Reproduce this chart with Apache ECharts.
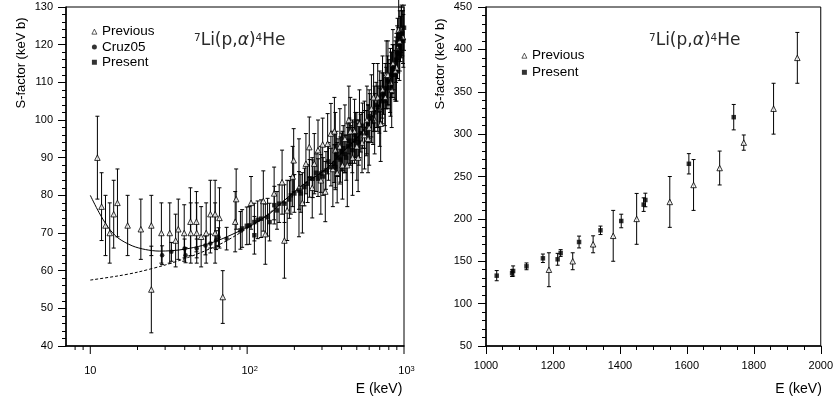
<!DOCTYPE html>
<html><head><meta charset="utf-8">
<script src="https://cdn.jsdelivr.net/npm/echarts@6/dist/echarts.min.js"></script>
<style>html,body{margin:0;padding:0;background:#fff}#c{width:836px;height:401px}</style>
</head><body><div id="c"></div>
<script>
// ---------- Left panel data: [E (keV), S (keV b), error] ----------
const leftPrevious = [
  [11.1,90,11],[11.8,77,9],[12.5,72,8],[13.3,70,8],[14.1,75,9],[14.9,78,9],[17.3,72,8],[21.0,71,8],
  [24.5,72,8],[24.5,55,11.5],[28.4,70,8],[32.1,70,8],[35.0,68,7],[36.4,71,8],[39.7,70,7.5],[43.5,73,9],
  [43.7,70,8],[47.5,73,8],[47.7,70,8],[50.9,69,8],[54.8,70,8],[58.3,75,9],[62.5,75,9],[62.5,70,8],
  [66.6,74,8],[69.9,53,7],[83.9,73,8],[85.1,79,8],[105.9,78,7],[126.8,78.5,8],[130.6,69.7,8],
  [148.6,80.5,7],[167,83.5,8.5],[172.8,68,10],[180,76,8],[195,85,8],[198,89.3,8.4],[214,82,13],
  [225,78,8],[237,88.4,8],[249,92.8,8],[260,82,8],[268,88.4,8],[283,92,8],[295,84,9],[303,93.5,7],
  [315,81,8],[326,93.7,8],[342,96.4,8],[352,87,10],[360,97,9],[365,92,10],[375,86,8],[390,93,10],
  [405,88,9],[420,95,9],[435,88,11],[445,100,9],[455,97,9],[470,90,10],[484,97,8.5],[500,93,9],
  [510,90,9],[520,99,9],[540,94,8],[560,96,9],[580,100,9],[590,95,9],[600,98,10],[620,103,9],
  [640,106,9],[650,100,9],[680,106,9],[700,103,10],[710,99,10],[730,108,9],[760,106,9],[770,112,9],
  [790,112,9],[820,110,9],[835,108,10],[850,115,9],[880,113,8],[895,114,9],[910,119,8],[925,124,8],
  [940,121,8],[960,124,6],[985,122,7]
];
const leftCruz05 = [
  [28.7,64.1,2.5],[32.9,65,2.5],[39.9,65.9,2.5],[40.5,64.1,2],[47.7,65.9,2.5],[54.2,66.7,2.5],
  [58.3,67.2,2.5],[63.4,68.1,2.5],[65.7,68.9,2.5],[74,68.5,3]
];
const leftPresent = [
  [90.6,70.7,5],[92.9,71.2,5],[99.5,71.9,5],[103.3,72,5],[111.2,72.9,5],[111.2,69.4,5],[116.7,73.5,5],
  [122.7,73.8,5],[135,74.2,5],[139,72.9,5],[149,77.4,5],[155,76,5],[160,77.8,5],[173,77.8,5],
  [186,78.9,5],[190,80,5],[200,80.5,5],[214,81.3,5],[220,80.5,5],[232,82.2,5],[243,83.1,5],
  [250,84.5,5],[262,84.4,5],[275,86,5],[283,84.7,5],[295,85.8,5],[305,85,5],[318,86.6,5],
  [330,89,5],[342,87.5,5],[359,88.4,5],[365,87.5,6],[372,91,6],[380,90,5],[393,89.5,6],[400,91.5,5],
  [410,92.5,6],[420,91,5],[428,90,6],[440,93,5],[448,94.5,6],[460,93.5,5],[468,92,6],[480,94.5,5],
  [490,96,6],[500,95,5],[515,94,6],[530,96.5,5],[545,98.5,6],[560,97.5,5],[575,96.5,6],[590,99,5],
  [605,101,6],[620,100.5,5],[635,99.5,6],[650,102,5],[665,104,6],[680,103.5,5.5],[695,102.5,6],
  [710,105,5.5],[725,106.5,6],[740,107,5.5],[755,105,6.5],[770,108.5,5.5],[785,110.5,6.5],
  [800,110,6],[815,108.5,6.5],[830,112,6],[845,113.5,6.5],[860,114,6],[875,112,6.5],[890,116,6],
  [905,118,7],[920,118.5,6],[935,117.5,7],[950,121.5,6],[965,123.5,7],[975,123,6],[990,121,7],[1000,124.5,6]
];
const solidCurve = [
  [10,80],[11.35,75.5],[13,71.5],[15,68.7],[18.5,66.6],[22.5,65.6],[27.5,65.2],[33,65.3],[40,65.7],
  [52,66.7],[66,68.1],[85,70.1],[108,72.2],[139,75.1],[173,78.7],[232,83.1],[310,86.6],[386,90.6],
  [531,96.4],[650,102],[750,107],[850,113],[954,122],[1000,125]
];
const dashedCurve = [
  [10,57.5],[15,58.6],[20,59.6],[30,61.5],[40,63.2],[50,64.7],[60,66.1],[70,67.4],[85,69.4],
  [100,71.2],[130,74.4],[173,78.7],[232,83.1],[310,86.6],[386,90.6],[531,96.4],[650,102],
  [750,107],[850,113],[954,122],[1000,125]
];
// ---------- Right panel data ----------
const rightPrevious = [
  [1188,140,20],[1259,150,10],[1320,170,10],[1380,180,30],[1450,200,30],[1549,220,30],
  [1620,240,30],[1698,260,20],[1770,290,9],[1859,330,30],[1930,390,30]
];
const rightPresent = [
  [1032,133,6],[1078,136,4],[1081,138.5,6],[1121,144,4],[1170,153.5,5],[1214,152.3,7],[1223,159.7,4],
  [1278,172.7,7],[1342,186.5,5],[1404,197.5,8],[1471,216.8,8],[1476,222.3,8],[1606,265,12],[1740,320,15]
];
// ---------- Axis ticks ----------
const logMajorTicks = [10, 100, 1000];
const logMinorTicks = [8,9,20,30,40,50,60,70,80,90,200,300,400,500,600,700,800,900];
const leftYRange = [40, 130];
const rightYRange = [50, 450];

const FONT = '"Liberation Sans", Arial, Helvetica, sans-serif';
const RFONT = '"DejaVu Sans", sans-serif';
const chart = echarts.init(document.getElementById('c'));

function errRender(params, api) {
  const x = api.value(0), y = api.value(1), e = api.value(2);
  const t = api.coord([x, y + e]), b = api.coord([x, y - e]);
  const cw = 2;
  const st = {stroke: '#000', lineWidth: 1};
  return {type: 'group', children: [
    {type: 'line', shape: {x1: t[0], y1: t[1], x2: b[0], y2: b[1]}, style: st},
    {type: 'line', shape: {x1: t[0]-cw, y1: t[1], x2: t[0]+cw, y2: t[1]}, style: st},
    {type: 'line', shape: {x1: b[0]-cw, y1: b[1], x2: b[0]+cw, y2: b[1]}, style: st}
  ]};
}
function tickRender(len) {
  return function (params, api) {
    const p = api.coord([api.value(0), api.value(1)]);
    return {type: 'line', shape: {x1: p[0], y1: p[1], x2: p[0], y2: p[1] + len}, style: {stroke: '#000', lineWidth: 1}};
  };
}
function errSeries(data, xi, yi) {
  return {type: 'custom', xAxisIndex: xi, yAxisIndex: yi, data: data, renderItem: errRender,
    encode: {x: 0, y: 1}, z: 1, silent: true, clip: false};
}
const triStyle = {color: '#fff', borderColor: '#000', borderWidth: 1};
const triLegend = {color: '#fff', borderColor: '#000', borderWidth: 0.8};

const valueAxisCommon = {
  axisLine: {show: true, onZero: false, lineStyle: {color: '#000', width: 1.5}},
  axisTick: {show: true, inside: false, length: 8, lineStyle: {color: '#000'}},
  splitLine: {show: false}
};
const reactionRich = {
  n: {fontSize: 17, fontFamily: RFONT, fill: '#2a2a2a'},
  a: {fontSize: 17, fontFamily: RFONT, fontStyle: 'italic', fill: '#2a2a2a'},
  s: {fontSize: 10.5, fontFamily: RFONT, fill: '#2a2a2a', verticalAlign: 'top'}
};

const option = {
  animation: false,
  backgroundColor: '#fff',
  grid: [
    {left: 66, top: 7, width: 338, height: 339, show: true, borderColor: '#000', borderWidth: 1},
    {left: 486, top: 7, width: 338, height: 339, show: true, borderColor: '#000', borderWidth: 1}
  ],
  xAxis: [
    {gridIndex: 0, type: 'log', logBase: 10, min: 7, max: 1000,
      axisLine: {show: true, onZero: false, lineStyle: {color: '#000', width: 1.5}},
      axisTick: {show: false}, splitLine: {show: false}, minorTick: {show: false},
      axisLabel: {margin: 19, color: '#000', fontSize: 11, fontFamily: FONT,
        formatter: function (v) {
          const r = Math.round(v);
          if (r === 10) return '{b|10}';
          if (r === 100) return '{c|10}{s|2}';
          if (r === 1000) return '{c|10}{s|3}';
          return '';
        },
        rich: {
          b: {fontSize: 11, fontFamily: FONT, color: '#000'},
          c: {fontSize: 11, fontFamily: FONT, color: '#000', padding: [0, 0, 0, 5]},
          s: {fontSize: 7.5, fontFamily: FONT, color: '#000', verticalAlign: 'top'}
        }}},
    Object.assign({}, valueAxisCommon, {gridIndex: 1, type: 'value', min: 1000, max: 2000, interval: 200,
      minorTick: {show: true, length: 4, splitNumber: 4, lineStyle: {color: '#000'}},
      axisLabel: {margin: 14, color: '#000', fontSize: 11, fontFamily: FONT, formatter: v => String(v)}})
  ],
  yAxis: [
    Object.assign({}, valueAxisCommon, {gridIndex: 0, type: 'value', min: leftYRange[0], max: leftYRange[1], interval: 10,
      minorTick: {show: true, length: 4, splitNumber: 5, lineStyle: {color: '#000'}},
      axisLabel: {margin: 13, color: '#000', fontSize: 11, fontFamily: FONT, formatter: v => String(v)}}),
    Object.assign({}, valueAxisCommon, {gridIndex: 1, type: 'value', min: rightYRange[0], max: rightYRange[1], interval: 50,
      minorTick: {show: true, length: 4, splitNumber: 5, lineStyle: {color: '#000'}},
      axisLabel: {margin: 14, color: '#000', fontSize: 11, fontFamily: FONT, formatter: v => String(v)}})
  ],
  legend: [
    {data: [{name: 'Previous', itemStyle: triLegend}, 'Cruz05', 'Present'], orient: 'vertical', left: 86.5, top: 19,
      itemWidth: 5, itemHeight: 5, itemGap: 0, itemTextGap: 8.5, selectedMode: false,
      textStyle: {fontSize: 13.5, fontFamily: FONT, color: '#000', lineHeight: 15.3}},
    {data: [{name: 'Previous', itemStyle: triLegend}, 'Present'], orient: 'vertical', left: 516.5, top: 42.4,
      itemWidth: 5, itemHeight: 5, itemGap: 0, itemTextGap: 8.5, selectedMode: false,
      textStyle: {fontSize: 13.5, fontFamily: FONT, color: '#000', lineHeight: 16.6}}
  ],
  graphic: [
    {type: 'text', x: 21, y: 63, rotation: Math.PI / 2,
      style: {text: 'S-factor (keV b)', fontSize: 13, fontFamily: FONT, fill: '#000', align: 'center', verticalAlign: 'middle'}},
    {type: 'text', x: 440, y: 64, rotation: Math.PI / 2,
      style: {text: 'S-factor (keV b)', fontSize: 13, fontFamily: FONT, fill: '#000', align: 'center', verticalAlign: 'middle'}},
    {type: 'text', x: 379, y: 389,
      style: {text: 'E (keV)', fontSize: 14, fontFamily: FONT, fill: '#000', align: 'center', verticalAlign: 'middle'}},
    {type: 'text', x: 798.5, y: 389,
      style: {text: 'E (keV)', fontSize: 14, fontFamily: FONT, fill: '#000', align: 'center', verticalAlign: 'middle'}},
    {type: 'text', x: 194, y: 41,
      style: {text: '{s|7}{n|Li(p,}{a|α}{n|)}{s|4}{n|He}', verticalAlign: 'middle', align: 'left', rich: reactionRich}},
    {type: 'text', x: 649, y: 41,
      style: {text: '{s|7}{n|Li(p,}{a|α}{n|)}{s|4}{n|He}', verticalAlign: 'middle', align: 'left', rich: reactionRich}}
  ],
  series: [
    {type: 'custom', xAxisIndex: 0, yAxisIndex: 0, data: logMajorTicks.map(v => [v, leftYRange[0]]),
      renderItem: tickRender(8), encode: {x: 0, y: 1}, clip: false, silent: true, z: 5},
    {type: 'custom', xAxisIndex: 0, yAxisIndex: 0, data: logMinorTicks.map(v => [v, leftYRange[0]]),
      renderItem: tickRender(4), encode: {x: 0, y: 1}, clip: false, silent: true, z: 5},
    errSeries(leftPrevious, 0, 0), errSeries(leftCruz05, 0, 0), errSeries(leftPresent, 0, 0),
    errSeries(rightPrevious, 1, 1), errSeries(rightPresent, 1, 1),
    {type: 'line', xAxisIndex: 0, yAxisIndex: 0, data: solidCurve, smooth: 0.3, showSymbol: false, z: 2,
      lineStyle: {color: '#000', width: 1}, silent: true},
    {type: 'line', xAxisIndex: 0, yAxisIndex: 0, data: dashedCurve, smooth: 0.3, showSymbol: false, z: 2,
      lineStyle: {color: '#000', width: 1, type: [3, 2]}, silent: true},
    {name: 'Previous', type: 'scatter', xAxisIndex: 0, yAxisIndex: 0, data: leftPrevious.map(d => [d[0], d[1]]),
      symbol: 'triangle', symbolSize: 5.5, itemStyle: triStyle, z: 4},
    {name: 'Cruz05', type: 'scatter', xAxisIndex: 0, yAxisIndex: 0, data: leftCruz05.map(d => [d[0], d[1]]),
      symbol: 'circle', symbolSize: 4.5, itemStyle: {color: '#000'}, z: 4},
    {name: 'Present', type: 'scatter', xAxisIndex: 0, yAxisIndex: 0, data: leftPresent.map(d => [d[0], d[1]]),
      symbol: 'rect', symbolSize: 4.5, itemStyle: {color: '#000'}, z: 4},
    {name: 'Previous', type: 'scatter', xAxisIndex: 1, yAxisIndex: 1, data: rightPrevious.map(d => [d[0], d[1]]),
      symbol: 'triangle', symbolSize: 5.5, itemStyle: triStyle, z: 4},
    {name: 'Present', type: 'scatter', xAxisIndex: 1, yAxisIndex: 1, data: rightPresent.map(d => [d[0], d[1]]),
      symbol: 'rect', symbolSize: 4.5, itemStyle: {color: '#000'}, z: 4}
  ]
};
chart.setOption(option);
</script></body></html>
